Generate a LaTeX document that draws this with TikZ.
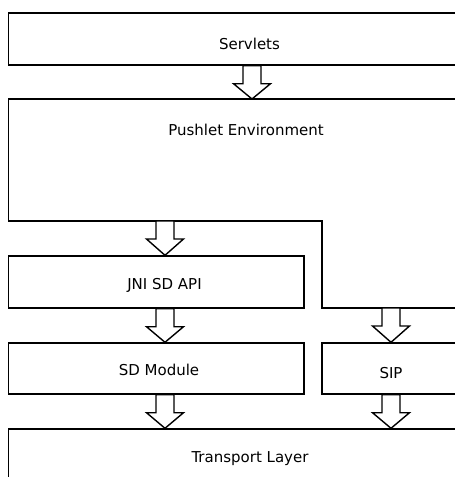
\documentclass[tikz,border=0pt]{standalone}
\usepackage{fontspec}
\setmainfont{DejaVu Sans}
\usetikzlibrary{fit,calc}
\tikzset{
  layerbox/.style={draw, line width=1.4pt, inner sep=0pt},
  lbl/.style={font=\fontsize{15}{18}\selectfont, inner sep=0pt, anchor=base},
  blk/.style={draw, line width=1.4pt, fill=white, line join=miter}
}
\newcommand\blockarrow[2]{%
  \draw[blk] let \p1=#1, \p2=#2 in
  (\x1-9pt,\y1) -- (\x1+9pt,\y1) -- (\x1+9pt,\y1-18pt) -- (\x1+18.5pt,\y1-18pt)
  -- (\x1,\y2) -- (\x1-18.5pt,\y1-18pt) -- (\x1-9pt,\y1-18pt) -- cycle;}
\begin{document}
\begin{tikzpicture}[x=1pt,y=-1pt]
\useasboundingbox (0,0) rectangle (455,477);
\clip (0,0) rectangle (455,477);
% boxes
\node[layerbox, fit={(8.5,13) (490,65)}] (servlets) {};
\draw[line width=1.4pt] (8.5,99) coordinate (pTL) -- (470,99) coordinate (pTR)
  -- (470,308) -- (322,308) coordinate (pIR) -- (322,221) coordinate (pIC)
  -- (8.5,221) coordinate (pBL) -- cycle;
\node[layerbox, fit={(8.5,256) (304,308)}] (jni) {};
\node[layerbox, fit={(8.5,343) (304,394)}] (sd) {};
\node[layerbox, fit={(322,343) (470,394)}] (sip) {};
\node[layerbox, fit={(8.5,429) (490,490)}] (transport) {};
% labels
\node[lbl] (tservlets) at (249.5,49) {Servlets};
\node[lbl] (tpushlet) at (246,135) {Pushlet Environment};
\node[lbl] (tjni) at (164.5,289) {JNI SD API};
\node[lbl] (tsd) at (159,375) {SD Module};
\node[lbl] (tsip) at (391,378) {SIP};
\node[lbl] (ttransport) at (250,462) {Transport Layer};
% arrow columns
\coordinate (cT) at (252,0);
\coordinate (cL) at (165,0);
\coordinate (cR) at (391,0);
\blockarrow{(cT |- servlets.south)}{(cT |- pTL)}
\blockarrow{(cL |- pBL)}{(cL |- jni.north)}
\blockarrow{(cL |- jni.south)}{(cL |- sd.north)}
\blockarrow{(cR |- pIR)}{(cR |- sip.north)}
\blockarrow{(cL |- sd.south)}{(cL |- transport.north)}
\blockarrow{(cR |- sip.south)}{(cR |- transport.north)}
\end{tikzpicture}
\end{document}
